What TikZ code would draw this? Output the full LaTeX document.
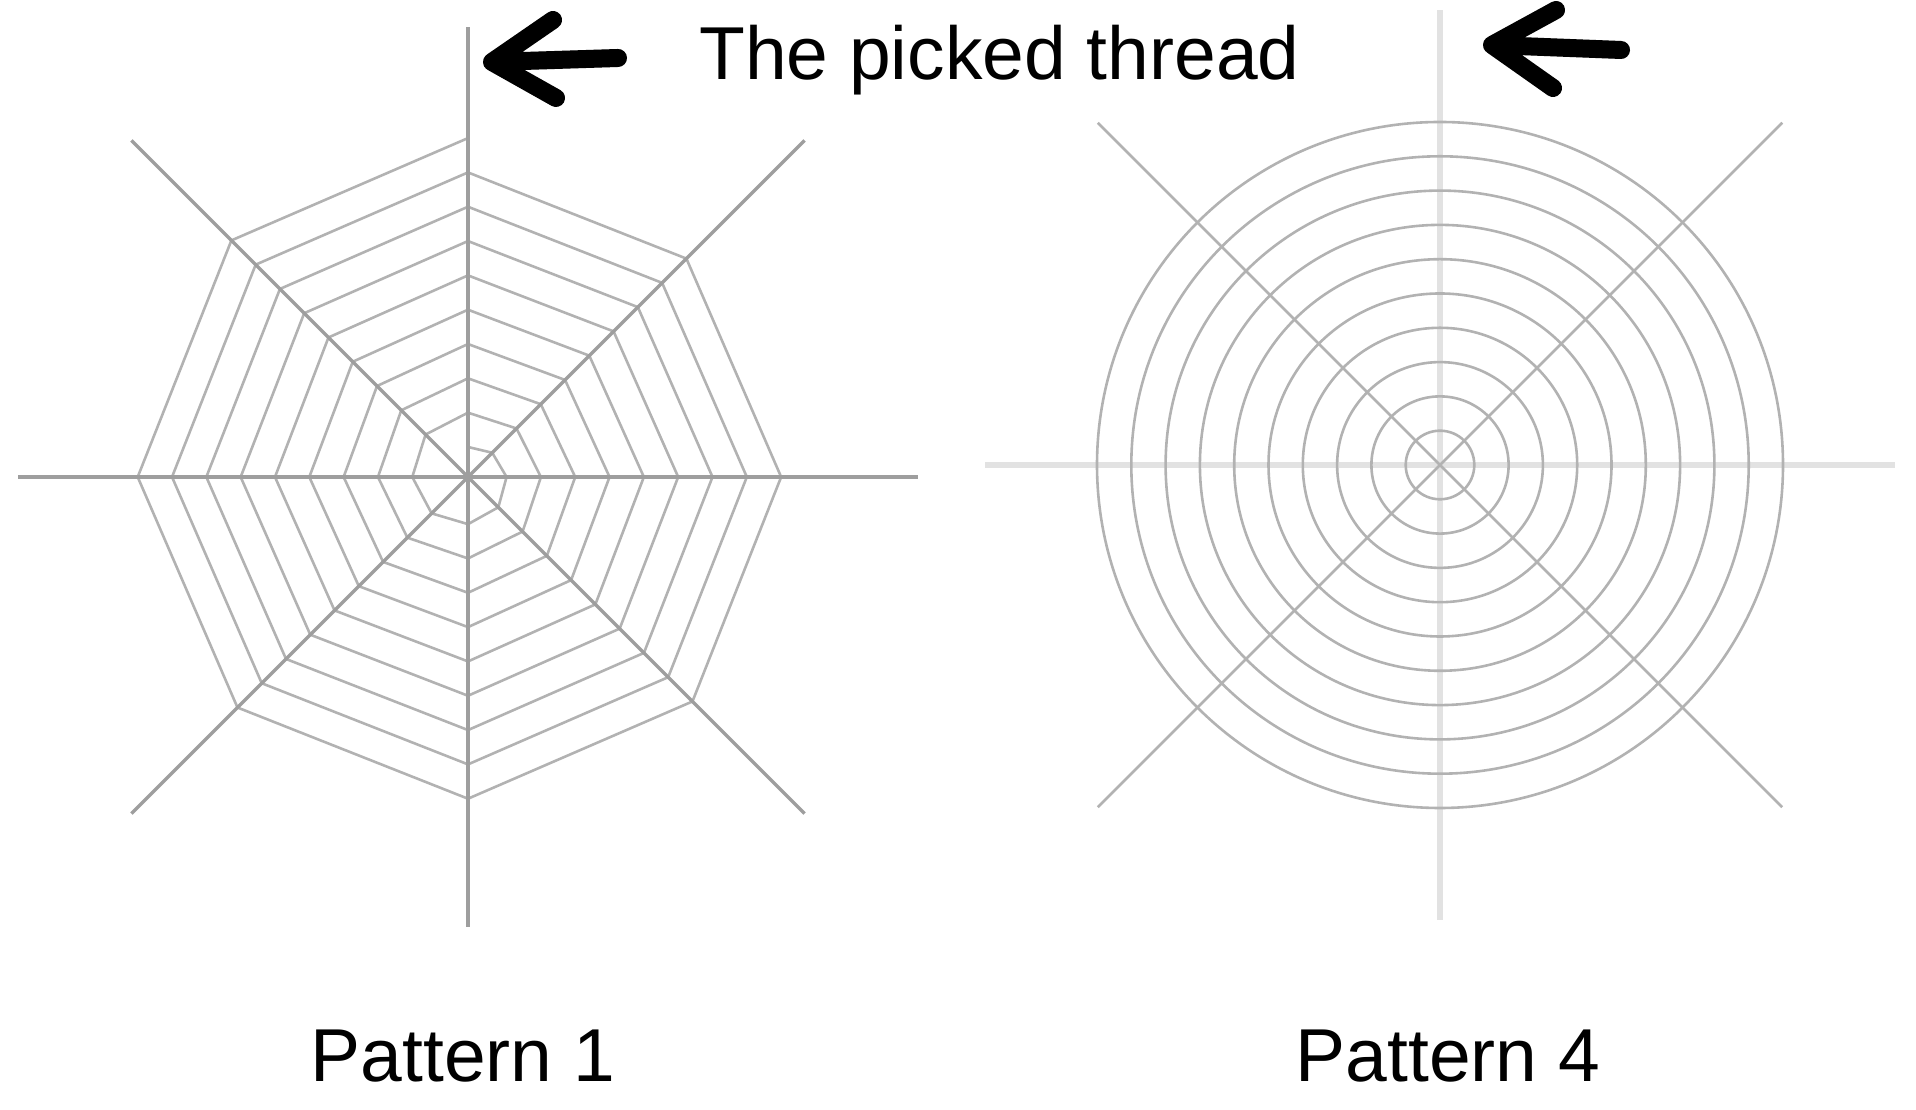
\documentclass[tikz,border=0pt]{standalone}
\usepackage{fontspec}
\setmainfont{Liberation Sans}
\definecolor{spokegray}{HTML}{9E9E9E}
\definecolor{threadgray}{HTML}{B2B2B2}
\definecolor{axisgray}{HTML}{E2E2E2}
\begin{document}
\begin{tikzpicture}[x=1pt,y=1pt]
	\tikzset{spoke/.style={draw=spokegray, line width=3.5pt},
		thread/.style={draw=threadgray, line width=2.6pt},
		axis/.style={draw=axisgray, line width=6pt},
		bigtxt/.style={font={\fontsize{75}{80}\selectfont}, inner sep=0pt},
		pointer/.style={line width=18pt, line cap=round, line join=round},
		pshadow/.style={pointer, draw=black, opacity=0.15, shift={(7,-8)}}}
	\useasboundingbox (0,0) rectangle (1916,1110);
	\coordinate (l) at (468,633);
	\coordinate (r) at (1440,645);
	% pattern 1: octagonal spiral
	\begin{scope}[shift={(l)}]
		\draw[thread] (90:30) \foreach \k in {1,...,72} { -- ({90-45*\k}:{30+4.29*\k}) };
	\end{scope}
	\foreach \a in {0,90,180,270} \draw[spoke] (l) -- ++(\a:450);
	\foreach \a in {45,135,225,315} \draw[spoke] (l) -- ++(\a:476);
	% pattern 4: circles
	\foreach \a in {0,90,180,270} \draw[axis] (r) -- ++(\a:455);
	\foreach \a in {45,135,225,315} \draw[thread] (r) -- ++(\a:484);
	\foreach \i in {1,...,10} \draw[thread] (r) circle[radius=34.3*\i];
	% labels
	\node[bigtxt, anchor=base west] (pt) at (699,1030) {The picked thread};
	\node[bigtxt, anchor=base] (p1) at (463,28) {Pattern 1};
	\node[bigtxt, anchor=base] (p4) at (1448,28) {Pattern 4};
	% arrows at the picked thread
	\coordinate (t1) at (492,1048);
	\coordinate (e1) at (618,1052);
	\coordinate (u1) at (553,1090);
	\coordinate (d1) at (556,1012);
	\coordinate (t4) at (1492,1065);
	\coordinate (e4) at (1621,1060);
	\coordinate (u4) at (1556,1100);
	\coordinate (d4) at (1553,1022);
	\draw[pshadow] (u1) -- (t1) -- (d1) (t1) -- (e1);
	\draw[pshadow] (u4) -- (t4) -- (d4) (t4) -- (e4);
	\draw[pointer] (u1) -- (t1) -- (d1) (t1) -- (e1);
	\draw[pointer] (u4) -- (t4) -- (d4) (t4) -- (e4);
\end{tikzpicture}
\end{document}
